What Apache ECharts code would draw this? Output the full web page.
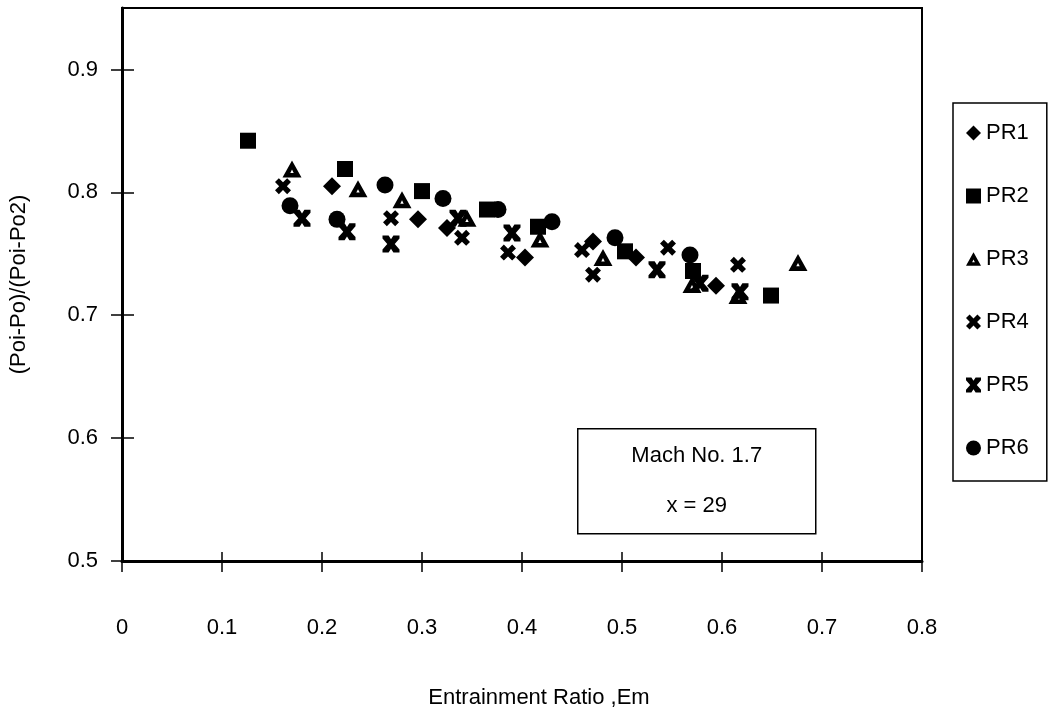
<!DOCTYPE html>
<html>
<head>
<meta charset="utf-8">
<script src="https://cdn.jsdelivr.net/npm/echarts@6/dist/echarts.min.js"></script>
<style>
html,body{margin:0;padding:0;background:#fff;}
#chart{width:1053px;height:714px;}
</style>
</head>
<body>
<div id="chart"></div>
<script>
// ---- data ----
const seriesNames = ['PR1', 'PR2', 'PR3', 'PR4', 'PR5', 'PR6'];
const pr1X = [0.210, 0.296, 0.325, 0.403, 0.471, 0.514, 0.594];
const pr1Y = [0.805, 0.778, 0.771, 0.747, 0.760, 0.747, 0.724];
const pr2X = [0.126, 0.223, 0.300, 0.365, 0.416, 0.503, 0.571, 0.649];
const pr2Y = [0.842, 0.819, 0.801, 0.786, 0.772, 0.752, 0.736, 0.716];
const pr3X = [0.170, 0.236, 0.280, 0.345, 0.418, 0.481, 0.570, 0.616, 0.676];
const pr3Y = [0.819, 0.803, 0.794, 0.779, 0.762, 0.747, 0.725, 0.716, 0.743];
const pr4X = [0.161, 0.269, 0.340, 0.386, 0.460, 0.471, 0.546, 0.616];
const pr4Y = [0.805, 0.779, 0.763, 0.751, 0.753, 0.733, 0.755, 0.741];
const pr5X = [0.180, 0.225, 0.269, 0.336, 0.390, 0.535, 0.578, 0.618];
const pr5Y = [0.779, 0.768, 0.758, 0.779, 0.767, 0.737, 0.726, 0.719];
const pr6X = [0.168, 0.215, 0.263, 0.321, 0.376, 0.430, 0.493, 0.568];
const pr6Y = [0.789, 0.778, 0.806, 0.795, 0.786, 0.776, 0.763, 0.749];
const xTicks = [0, 0.1, 0.2, 0.3, 0.4, 0.5, 0.6, 0.7, 0.8];
const yTicks = [0.5, 0.6, 0.7, 0.8, 0.9];
const xTitle = 'Entrainment Ratio ,Em';
const yTitle = '(Poi-Po)/(Poi-Po2)';
const noteLines = ['Mach No. 1.7', 'x = 29'];

const allX = [pr1X, pr2X, pr3X, pr4X, pr5X, pr6X];
const allY = [pr1Y, pr2Y, pr3Y, pr4Y, pr5Y, pr6Y];

const FONT = '"Liberation Sans", Arial, sans-serif';
const FS = 22;
const TRI_SYM = 'path://M5,0 L10,9 L0,9 Z M5,4.8 L4.1,6.6 L5.9,6.6 Z';
const X_SYM = 'path://M0,2.4 L2.4,0 L5,2.6 L7.6,0 L10,2.4 L7.4,5 L10,7.6 L7.6,10 L5,7.4 L2.4,10 L0,7.6 L2.6,5 Z';
const STAR_SYM = 'path://M0,0 L3.6,0 L5,2.2 L6.4,0 L10,0 L10,1.8 L7.2,5 L10,8.2 L10,10 L6.4,10 L5,7.8 L3.6,10 L0,10 L0,8.2 L2.8,5 L0,1.8 Z';
const symbols = ['diamond', 'rect', TRI_SYM, X_SYM, STAR_SYM, 'circle'];
const sizes = [18, 16, [19, 17], 16, 17, 17];

const series = seriesNames.map((name, i) => ({
  name: name,
  type: 'scatter',
  xAxisIndex: 0,
  yAxisIndex: 0,
  symbol: symbols[i],
  symbolSize: sizes[i],
  data: allX[i].map((x, k) => [x, allY[i][k]]),
  itemStyle: { color: '#000', opacity: 1, borderWidth: 0 },
  emphasis: { disabled: true },
  z: 3
}));

const chart = echarts.init(document.getElementById('chart'), null, { renderer: 'canvas' });
chart.setOption({
  backgroundColor: '#fff',
  animation: false,
  textStyle: { fontFamily: FONT, color: '#000' },
  grid: {
    left: 122, right: 131, top: 8, bottom: 148,
    show: true, borderColor: '#000', borderWidth: 2, backgroundColor: 'transparent'
  },
  legend: {
    orient: 'vertical',
    left: 953, top: 103,
    padding: [19, 18, 22, 13],
    itemGap: 41,
    itemWidth: 15, itemHeight: 15,
    borderColor: '#000', borderWidth: 1.5,
    textStyle: { fontFamily: FONT, fontSize: FS, color: '#000' },
    data: seriesNames,
    selectedMode: false
  },
  xAxis: [{
    type: 'value', min: xTicks[0], max: xTicks[xTicks.length - 1], interval: 0.1,
    position: 'bottom',
    name: xTitle, nameLocation: 'middle', nameGap: 126,
    nameTextStyle: { fontFamily: FONT, fontSize: FS, color: '#000', padding: [0, 0, 0, 34] },
    axisLine: { show: true, lineStyle: { color: '#000', width: 3 } },
    axisTick: { show: true, inside: false, length: 11, lineStyle: { color: '#000', width: 1.5 } },
    axisLabel: { fontFamily: FONT, fontSize: FS, color: '#000', margin: 56 },
    splitLine: { show: false }
  }, {
    type: 'value', min: xTicks[0], max: xTicks[xTicks.length - 1], interval: 0.1,
    position: 'bottom',
    axisLine: { show: false },
    axisTick: { show: true, inside: true, length: 9, lineStyle: { color: '#000', width: 1.5 } },
    axisLabel: { show: false },
    splitLine: { show: false }
  }],
  yAxis: [{
    type: 'value', min: 0.5, max: 0.95,
    position: 'left',
    name: yTitle, nameLocation: 'middle', nameGap: 92,
    nameTextStyle: { fontFamily: FONT, fontSize: FS, color: '#000' },
    axisLine: { show: true, lineStyle: { color: '#000', width: 3 } },
    axisTick: { show: true, inside: false, length: 11, customValues: yTicks, lineStyle: { color: '#000', width: 1.5 } },
    axisLabel: { fontFamily: FONT, fontSize: FS, color: '#000', margin: 24, customValues: yTicks },
    splitLine: { show: false }
  }, {
    type: 'value', min: 0.5, max: 0.95,
    position: 'left',
    axisLine: { show: false },
    axisTick: { show: true, inside: true, length: 12, customValues: yTicks, lineStyle: { color: '#000', width: 1.5 } },
    axisLabel: { show: false, customValues: yTicks },
    splitLine: { show: false }
  }],
  graphic: [{
    type: 'group',
    left: 577, top: 428,
    children: [{
      type: 'rect',
      shape: { x: 0, y: 0, width: 238, height: 105 },
      style: { fill: '#fff', stroke: '#000', lineWidth: 1.5 }
    }, {
      type: 'text',
      x: 119, y: 27,
      style: { text: noteLines[0], fontFamily: FONT, fontSize: FS, fill: '#000', align: 'center', verticalAlign: 'middle' }
    }, {
      type: 'text',
      x: 119, y: 77,
      style: { text: noteLines[1], fontFamily: FONT, fontSize: FS, fill: '#000', align: 'center', verticalAlign: 'middle' }
    }]
  }],
  series: series
});
</script>
</body>
</html>
